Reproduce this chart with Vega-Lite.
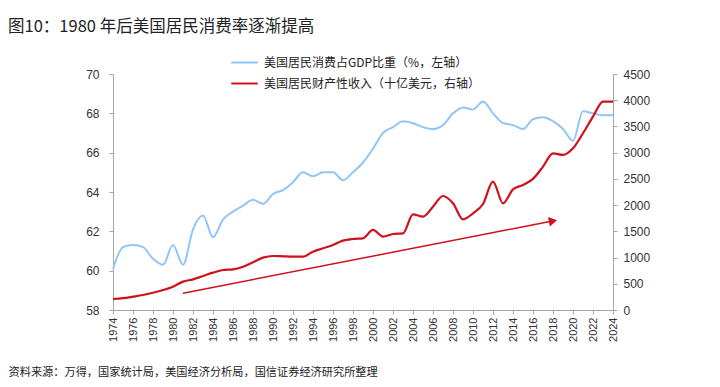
{
  "$schema": "https://vega.github.io/schema/vega-lite/v6.json",
  "width": 500,
  "height": 236,
  "autosize": {"type": "none"},
  "padding": {"left": 113, "top": 74, "right": 107, "bottom": 77},
  "background": "white",
  "title": {
    "text": "图10：1980 年后美国居民消费率逐渐提高",
    "anchor": "start",
    "frame": "group",
    "orient": "top",
    "baseline": "middle",
    "dx": -105,
    "dy": -5,
    "offset": 0,
    "fontSize": 16.5,
    "fontWeight": "normal",
    "font": "Noto Sans CJK SC",
    "color": "#222222"
  },
  "config": {
    "view": {"stroke": null},
    "axis": {
      "labelFont": "Liberation Sans",
      "labelFontSize": 12,
      "labelColor": "#333333",
      "domainColor": "#A6A6A6",
      "tickColor": "#A6A6A6",
      "grid": false,
      "tickSize": 4,
      "labelOverlap": false
    }
  },
  "datasets": {
    "consumption": [
      {"year": 1974, "series": "美国居民消费占GDP比重（%，左轴）", "value": 60.1},
      {"year": 1975, "series": "美国居民消费占GDP比重（%，左轴）", "value": 61.2},
      {"year": 1976, "series": "美国居民消费占GDP比重（%，左轴）", "value": 61.3},
      {"year": 1977, "series": "美国居民消费占GDP比重（%，左轴）", "value": 61.2},
      {"year": 1978, "series": "美国居民消费占GDP比重（%，左轴）", "value": 60.6},
      {"year": 1979, "series": "美国居民消费占GDP比重（%，左轴）", "value": 60.3},
      {"year": 1980, "series": "美国居民消费占GDP比重（%，左轴）", "value": 61.3},
      {"year": 1981, "series": "美国居民消费占GDP比重（%，左轴）", "value": 60.3},
      {"year": 1982, "series": "美国居民消费占GDP比重（%，左轴）", "value": 62.1},
      {"year": 1983, "series": "美国居民消费占GDP比重（%，左轴）", "value": 62.8},
      {"year": 1984, "series": "美国居民消费占GDP比重（%，左轴）", "value": 61.7},
      {"year": 1985, "series": "美国居民消费占GDP比重（%，左轴）", "value": 62.6},
      {"year": 1986, "series": "美国居民消费占GDP比重（%，左轴）", "value": 63.0},
      {"year": 1987, "series": "美国居民消费占GDP比重（%，左轴）", "value": 63.3},
      {"year": 1988, "series": "美国居民消费占GDP比重（%，左轴）", "value": 63.6},
      {"year": 1989, "series": "美国居民消费占GDP比重（%，左轴）", "value": 63.4},
      {"year": 1990, "series": "美国居民消费占GDP比重（%，左轴）", "value": 63.9},
      {"year": 1991, "series": "美国居民消费占GDP比重（%，左轴）", "value": 64.1},
      {"year": 1992, "series": "美国居民消费占GDP比重（%，左轴）", "value": 64.5},
      {"year": 1993, "series": "美国居民消费占GDP比重（%，左轴）", "value": 65.0},
      {"year": 1994, "series": "美国居民消费占GDP比重（%，左轴）", "value": 64.8},
      {"year": 1995, "series": "美国居民消费占GDP比重（%，左轴）", "value": 65.0},
      {"year": 1996, "series": "美国居民消费占GDP比重（%，左轴）", "value": 65.0},
      {"year": 1997, "series": "美国居民消费占GDP比重（%，左轴）", "value": 64.6},
      {"year": 1998, "series": "美国居民消费占GDP比重（%，左轴）", "value": 65.0},
      {"year": 1999, "series": "美国居民消费占GDP比重（%，左轴）", "value": 65.5},
      {"year": 2000, "series": "美国居民消费占GDP比重（%，左轴）", "value": 66.2},
      {"year": 2001, "series": "美国居民消费占GDP比重（%，左轴）", "value": 67.0},
      {"year": 2002, "series": "美国居民消费占GDP比重（%，左轴）", "value": 67.3},
      {"year": 2003, "series": "美国居民消费占GDP比重（%，左轴）", "value": 67.6},
      {"year": 2004, "series": "美国居民消费占GDP比重（%，左轴）", "value": 67.5},
      {"year": 2005, "series": "美国居民消费占GDP比重（%，左轴）", "value": 67.3},
      {"year": 2006, "series": "美国居民消费占GDP比重（%，左轴）", "value": 67.2},
      {"year": 2007, "series": "美国居民消费占GDP比重（%，左轴）", "value": 67.4},
      {"year": 2008, "series": "美国居民消费占GDP比重（%，左轴）", "value": 68.0},
      {"year": 2009, "series": "美国居民消费占GDP比重（%，左轴）", "value": 68.3},
      {"year": 2010, "series": "美国居民消费占GDP比重（%，左轴）", "value": 68.2},
      {"year": 2011, "series": "美国居民消费占GDP比重（%，左轴）", "value": 68.6},
      {"year": 2012, "series": "美国居民消费占GDP比重（%，左轴）", "value": 68.0},
      {"year": 2013, "series": "美国居民消费占GDP比重（%，左轴）", "value": 67.5},
      {"year": 2014, "series": "美国居民消费占GDP比重（%，左轴）", "value": 67.4},
      {"year": 2015, "series": "美国居民消费占GDP比重（%，左轴）", "value": 67.2},
      {"year": 2016, "series": "美国居民消费占GDP比重（%，左轴）", "value": 67.7},
      {"year": 2017, "series": "美国居民消费占GDP比重（%，左轴）", "value": 67.8},
      {"year": 2018, "series": "美国居民消费占GDP比重（%，左轴）", "value": 67.6},
      {"year": 2019, "series": "美国居民消费占GDP比重（%，左轴）", "value": 67.2},
      {"year": 2020, "series": "美国居民消费占GDP比重（%，左轴）", "value": 66.6},
      {"year": 2021, "series": "美国居民消费占GDP比重（%，左轴）", "value": 68.1},
      {"year": 2022, "series": "美国居民消费占GDP比重（%，左轴）", "value": 68.0},
      {"year": 2023, "series": "美国居民消费占GDP比重（%，左轴）", "value": 67.9},
      {"year": 2024, "series": "美国居民消费占GDP比重（%，左轴）", "value": 67.9}
    ],
    "income": [
      {"year": 1974, "series": "美国居民财产性收入（十亿美元，右轴）", "value": 210},
      {"year": 1975, "series": "美国居民财产性收入（十亿美元，右轴）", "value": 225},
      {"year": 1976, "series": "美国居民财产性收入（十亿美元，右轴）", "value": 254},
      {"year": 1977, "series": "美国居民财产性收入（十亿美元，右轴）", "value": 286},
      {"year": 1978, "series": "美国居民财产性收入（十亿美元，右轴）", "value": 330},
      {"year": 1979, "series": "美国居民财产性收入（十亿美元，右轴）", "value": 381},
      {"year": 1980, "series": "美国居民财产性收入（十亿美元，右轴）", "value": 445},
      {"year": 1981, "series": "美国居民财产性收入（十亿美元，右轴）", "value": 541},
      {"year": 1982, "series": "美国居民财产性收入（十亿美元，右轴）", "value": 585},
      {"year": 1983, "series": "美国居民财产性收入（十亿美元，右轴）", "value": 648},
      {"year": 1984, "series": "美国居民财产性收入（十亿美元，右轴）", "value": 712},
      {"year": 1985, "series": "美国居民财产性收入（十亿美元，右轴）", "value": 763},
      {"year": 1986, "series": "美国居民财产性收入（十亿美元，右轴）", "value": 776},
      {"year": 1987, "series": "美国居民财产性收入（十亿美元，右轴）", "value": 826},
      {"year": 1988, "series": "美国居民财产性收入（十亿美元，右轴）", "value": 909},
      {"year": 1989, "series": "美国居民财产性收入（十亿美元，右轴）", "value": 998},
      {"year": 1990, "series": "美国居民财产性收入（十亿美元，右轴）", "value": 1030},
      {"year": 1991, "series": "美国居民财产性收入（十亿美元，右轴）", "value": 1024},
      {"year": 1992, "series": "美国居民财产性收入（十亿美元，右轴）", "value": 1017},
      {"year": 1993, "series": "美国居民财产性收入（十亿美元，右轴）", "value": 1017},
      {"year": 1994, "series": "美国居民财产性收入（十亿美元，右轴）", "value": 1112},
      {"year": 1995, "series": "美国居民财产性收入（十亿美元，右轴）", "value": 1176},
      {"year": 1996, "series": "美国居民财产性收入（十亿美元，右轴）", "value": 1240},
      {"year": 1997, "series": "美国居民财产性收入（十亿美元，右轴）", "value": 1322},
      {"year": 1998, "series": "美国居民财产性收入（十亿美元，右轴）", "value": 1354},
      {"year": 1999, "series": "美国居民财产性收入（十亿美元，右轴）", "value": 1367},
      {"year": 2000, "series": "美国居民财产性收入（十亿美元，右轴）", "value": 1526},
      {"year": 2001, "series": "美国居民财产性收入（十亿美元，右轴）", "value": 1399},
      {"year": 2002, "series": "美国居民财产性收入（十亿美元，右轴）", "value": 1449},
      {"year": 2003, "series": "美国居民财产性收入（十亿美元，右轴）", "value": 1462},
      {"year": 2004, "series": "美国居民财产性收入（十亿美元，右轴）", "value": 1825},
      {"year": 2005, "series": "美国居民财产性收入（十亿美元，右轴）", "value": 1780},
      {"year": 2006, "series": "美国居民财产性收入（十亿美元，右轴）", "value": 1970},
      {"year": 2007, "series": "美国居民财产性收入（十亿美元，右轴）", "value": 2174},
      {"year": 2008, "series": "美国居民财产性收入（十亿美元，右轴）", "value": 2034},
      {"year": 2009, "series": "美国居民财产性收入（十亿美元，右轴）", "value": 1729},
      {"year": 2010, "series": "美国居民财产性收入（十亿美元，右轴）", "value": 1844},
      {"year": 2011, "series": "美国居民财产性收入（十亿美元，右轴）", "value": 2021},
      {"year": 2012, "series": "美国居民财产性收入（十亿美元，右轴）", "value": 2447},
      {"year": 2013, "series": "美国居民财产性收入（十亿美元，右轴）", "value": 2034},
      {"year": 2014, "series": "美国居民财产性收入（十亿美元，右轴）", "value": 2301},
      {"year": 2015, "series": "美国居民财产性收入（十亿美元，右轴）", "value": 2384},
      {"year": 2016, "series": "美国居民财产性收入（十亿美元，右轴）", "value": 2500},
      {"year": 2017, "series": "美国居民财产性收入（十亿美元，右轴）", "value": 2733},
      {"year": 2018, "series": "美国居民财产性收入（十亿美元，右轴）", "value": 2988},
      {"year": 2019, "series": "美国居民财产性收入（十亿美元，右轴）", "value": 2956},
      {"year": 2020, "series": "美国居民财产性收入（十亿美元，右轴）", "value": 3083},
      {"year": 2021, "series": "美国居民财产性收入（十亿美元，右轴）", "value": 3370},
      {"year": 2022, "series": "美国居民财产性收入（十亿美元，右轴）", "value": 3686},
      {"year": 2023, "series": "美国居民财产性收入（十亿美元，右轴）", "value": 3972},
      {"year": 2024, "series": "美国居民财产性收入（十亿美元，右轴）", "value": 3972}
    ],
    "arrow": [
      {"year": 1981, "value": 320},
      {"year": 2018.2, "value": 1706}
    ],
    "arrowhead": [
      {"year": 2018.0, "value": 1698}
    ]
  },
  "layer": [
    {
      "data": {"name": "consumption"},
      "mark": {"type": "line", "interpolate": "monotone", "strokeWidth": 2},
      "encoding": {
        "x": {
          "field": "year",
          "type": "quantitative",
          "scale": {"domain": [1974, 2024], "nice": false, "zero": false},
          "axis": {
            "values": [1974, 1976, 1978, 1980, 1982, 1984, 1986, 1988, 1990, 1992, 1994, 1996, 1998, 2000, 2002, 2004, 2006, 2008, 2010, 2012, 2014, 2016, 2018, 2020, 2022, 2024],
            "format": "d",
            "labelAngle": -90,
            "labelOverlap": false,
            "labelFlush": false,
            "labelFontSize": 11,
            "labelPadding": 3,
            "labelColor": "#333333",
            "title": "资料来源：万得，国家统计局，美国经济分析局，国信证券经济研究所整理",
            "titleFont": "Noto Sans CJK SC",
            "titleFontSize": 11.2,
            "titleFontWeight": "normal",
            "titleColor": "#222222",
            "titleAngle": 0,
            "titleAlign": "left",
            "titleBaseline": "middle",
            "titleX": -105,
            "titleY": 62
          }
        },
        "y": {
          "field": "value",
          "type": "quantitative",
          "scale": {"domain": [58, 70], "nice": false, "zero": false},
          "axis": {"orient": "left", "values": [58, 60, 62, 64, 66, 68, 70], "title": null, "labelPadding": 10, "labelOverlap": false, "labelFlush": false}
        },
        "color": {
          "field": "series",
          "type": "nominal",
          "scale": {
            "domain": ["美国居民消费占GDP比重（%，左轴）", "美国居民财产性收入（十亿美元，右轴）"],
            "range": ["#92C5F7", "#D0101C"]
          },
          "legend": {
            "title": null,
            "orient": "none",
            "legendX": 117,
            "legendY": -26,
            "padding": 0,
            "rowPadding": -9,
            "symbolType": "stroke",
            "symbolSize": 700,
            "symbolStrokeWidth": 2,
            "labelFont": "Noto Sans CJK SC",
            "labelFontSize": 12,
            "labelColor": "#222222",
            "labelLimit": 400,
            "labelOffset": 5
          }
        }
      }
    },
    {
      "layer": [
        {
          "data": {"name": "income"},
          "mark": {"type": "line", "interpolate": "monotone", "strokeWidth": 2.2},
          "encoding": {
            "x": {
              "field": "year",
              "type": "quantitative",
              "axis": {
                "values": [1974, 1976, 1978, 1980, 1982, 1984, 1986, 1988, 1990, 1992, 1994, 1996, 1998, 2000, 2002, 2004, 2006, 2008, 2010, 2012, 2014, 2016, 2018, 2020, 2022, 2024],
                "format": "d",
                "labelAngle": -90,
                "labelOverlap": false,
                "labelFlush": false,
                "labelFontSize": 11,
                "labelPadding": 3,
                "labelColor": "#333333",
                "title": "资料来源：万得，国家统计局，美国经济分析局，国信证券经济研究所整理",
                "titleFont": "Noto Sans CJK SC",
                "titleFontSize": 11.2,
                "titleFontWeight": "normal",
                "titleColor": "#222222",
                "titleAngle": 0,
                "titleAlign": "left",
                "titleBaseline": "middle",
                "titleX": -105,
                "titleY": 62
              }
            },
            "y": {
              "field": "value",
              "type": "quantitative",
              "scale": {"domain": [0, 4500], "nice": false},
              "axis": {"orient": "right", "values": [0, 500, 1000, 1500, 2000, 2500, 3000, 3500, 4000, 4500], "format": "d", "title": null, "labelPadding": 6, "labelOverlap": false, "labelFlush": false}
            },
            "color": {"field": "series", "type": "nominal"}
          }
        },
        {
          "data": {"name": "arrow"},
          "mark": {"type": "line", "color": "#D0101C", "strokeWidth": 1.5},
          "encoding": {
            "x": {
              "field": "year",
              "type": "quantitative",
              "axis": {
                "values": [1974, 1976, 1978, 1980, 1982, 1984, 1986, 1988, 1990, 1992, 1994, 1996, 1998, 2000, 2002, 2004, 2006, 2008, 2010, 2012, 2014, 2016, 2018, 2020, 2022, 2024],
                "format": "d",
                "labelAngle": -90,
                "labelOverlap": false,
                "labelFlush": false,
                "labelFontSize": 11,
                "labelPadding": 3,
                "labelColor": "#333333",
                "title": "资料来源：万得，国家统计局，美国经济分析局，国信证券经济研究所整理",
                "titleFont": "Noto Sans CJK SC",
                "titleFontSize": 11.2,
                "titleFontWeight": "normal",
                "titleColor": "#222222",
                "titleAngle": 0,
                "titleAlign": "left",
                "titleBaseline": "middle",
                "titleX": -105,
                "titleY": 62
              }
            },
            "y": {
              "field": "value",
              "type": "quantitative",
              "axis": {"orient": "right", "values": [0, 500, 1000, 1500, 2000, 2500, 3000, 3500, 4000, 4500], "format": "d", "title": null, "labelPadding": 6, "labelOverlap": false, "labelFlush": false}
            }
          }
        },
        {
          "data": {"name": "arrowhead"},
          "mark": {"type": "point", "shape": "triangle-right", "filled": true, "color": "#D0101C", "size": 90, "angle": 349, "opacity": 1},
          "encoding": {
            "x": {
              "field": "year",
              "type": "quantitative",
              "axis": {
                "values": [1974, 1976, 1978, 1980, 1982, 1984, 1986, 1988, 1990, 1992, 1994, 1996, 1998, 2000, 2002, 2004, 2006, 2008, 2010, 2012, 2014, 2016, 2018, 2020, 2022, 2024],
                "format": "d",
                "labelAngle": -90,
                "labelOverlap": false,
                "labelFlush": false,
                "labelFontSize": 11,
                "labelPadding": 3,
                "labelColor": "#333333",
                "title": "资料来源：万得，国家统计局，美国经济分析局，国信证券经济研究所整理",
                "titleFont": "Noto Sans CJK SC",
                "titleFontSize": 11.2,
                "titleFontWeight": "normal",
                "titleColor": "#222222",
                "titleAngle": 0,
                "titleAlign": "left",
                "titleBaseline": "middle",
                "titleX": -105,
                "titleY": 62
              }
            },
            "y": {
              "field": "value",
              "type": "quantitative",
              "axis": {"orient": "right", "values": [0, 500, 1000, 1500, 2000, 2500, 3000, 3500, 4000, 4500], "format": "d", "title": null, "labelPadding": 6, "labelOverlap": false, "labelFlush": false}
            }
          }
        }
      ]
    }
  ],
  "resolve": {"scale": {"y": "independent"}}
}
